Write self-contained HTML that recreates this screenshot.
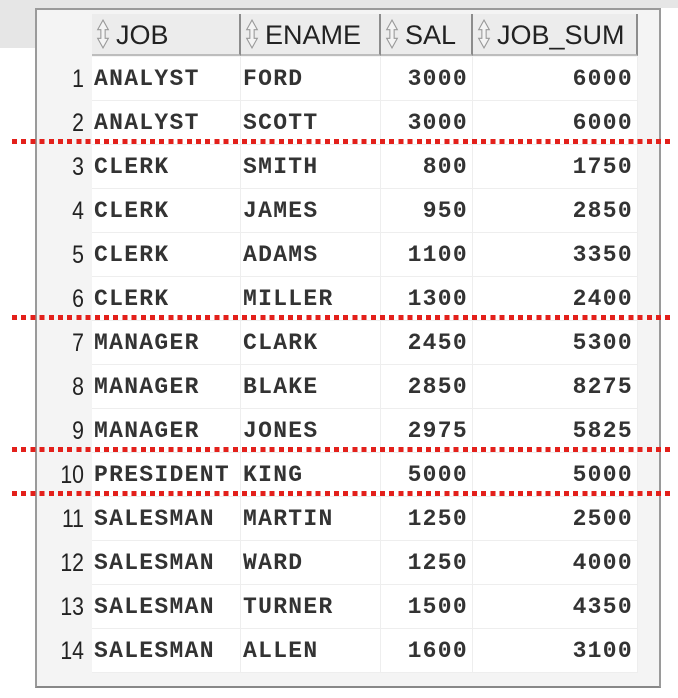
<!DOCTYPE html>
<html><head><meta charset="utf-8"><style>
body{margin:0;width:678px;height:698px;background:#fff;position:relative;overflow:hidden;font-family:"Liberation Sans",sans-serif}
.abs{position:absolute}
.frame{left:35px;top:8px;width:626px;height:680px;border:2px solid #9a9a9a;border-bottom-color:#888;background:#f4f4f4;box-sizing:border-box}
.hdr{position:absolute;top:14px;height:42px;background:#ececec;border-right:2px solid #8c8c8c;border-bottom:2px solid #bdbdbd;box-sizing:border-box;font-size:27px;color:#222;line-height:42px;padding-left:4px;white-space:nowrap;overflow:hidden}
.hdr .ic{display:inline-block;width:14px;height:30px;vertical-align:-5px;margin-right:6px}
.cell{position:absolute;height:44px;line-height:44px;box-sizing:border-box;border-right:1px solid #eee;border-bottom:1px solid #eee;background:#fff;font-family:"Liberation Mono",monospace;font-size:23px;letter-spacing:1.3px;color:#333;font-weight:bold;white-space:nowrap}
.num{position:absolute;height:44px;line-height:44px;text-align:right;font-size:25px;color:#222;width:48px;left:36px;transform:scaleX(0.85);transform-origin:right center}
.dots{position:absolute;left:12px;width:660px;height:5px;background:repeating-linear-gradient(90deg,#e3201b 0 5px,transparent 5px 9.2px)}
</style></head><body>
<div class="abs" style="left:0;top:0;width:35px;height:48px;background:#e6e6e6"></div>
<div class="abs" style="left:35px;top:0;width:643px;height:8px;background:#e6e6e6"></div>
<div class="abs frame"></div>
<div id="grid"></div>
<script>
const headers=["JOB","ENAME","SAL","JOB_SUM"];
const jobs=["ANALYST","ANALYST","CLERK","CLERK","CLERK","CLERK","MANAGER","MANAGER","MANAGER","PRESIDENT","SALESMAN","SALESMAN","SALESMAN","SALESMAN"];
const enames=["FORD","SCOTT","SMITH","JAMES","ADAMS","MILLER","CLARK","BLAKE","JONES","KING","MARTIN","WARD","TURNER","ALLEN"];
const sals=[3000,3000,800,950,1100,1300,2450,2850,2975,5000,1250,1250,1500,1600];
const sums=[6000,6000,1750,2850,3350,2400,5300,8275,5825,5000,2500,4000,4350,3100];
const dividers=[2,6,9,10];
const g=document.getElementById('grid');
const cols=[{x:92,w:149},{x:241,w:140},{x:381,w:92},{x:473,w:165}];
const ic='<svg class="ic" viewBox="0 0 12 28"><path d="M6 1 L11 10 L8 10 L8 18 L11 18 L6 27 L1 18 L4 18 L4 10 L1 10 Z" fill="#f4f4f4" stroke="#999" stroke-width="1"/></svg>';
headers.forEach((h,i)=>{const d=document.createElement('div');d.className='hdr';d.style.left=cols[i].x+'px';d.style.width=cols[i].w+'px';d.innerHTML=ic+h;


g.appendChild(d);});
const rowH=44,top0=57;
jobs.forEach((j,r)=>{const y=top0+r*rowH;
const n=document.createElement('div');n.className='num';n.style.top=y+'px';n.textContent=r+1;


g.appendChild(n);
const vals=[j,enames[r],sals[r],sums[r]];
vals.forEach((v,i)=>{const c=document.createElement('div');c.className='cell';c.style.left=cols[i].x+'px';c.style.width=cols[i].w+'px';c.style.top=y+'px';
if(i>=2){c.style.textAlign='right';c.style.paddingRight='4px';}else{c.style.paddingLeft='2px';}
c.textContent=v;


g.appendChild(c);});});
dividers.forEach(k=>{const d=document.createElement('div');d.className='dots';d.style.top=(top0+k*rowH-6)+'px';


g.appendChild(d);});
</script>
</body></html>
